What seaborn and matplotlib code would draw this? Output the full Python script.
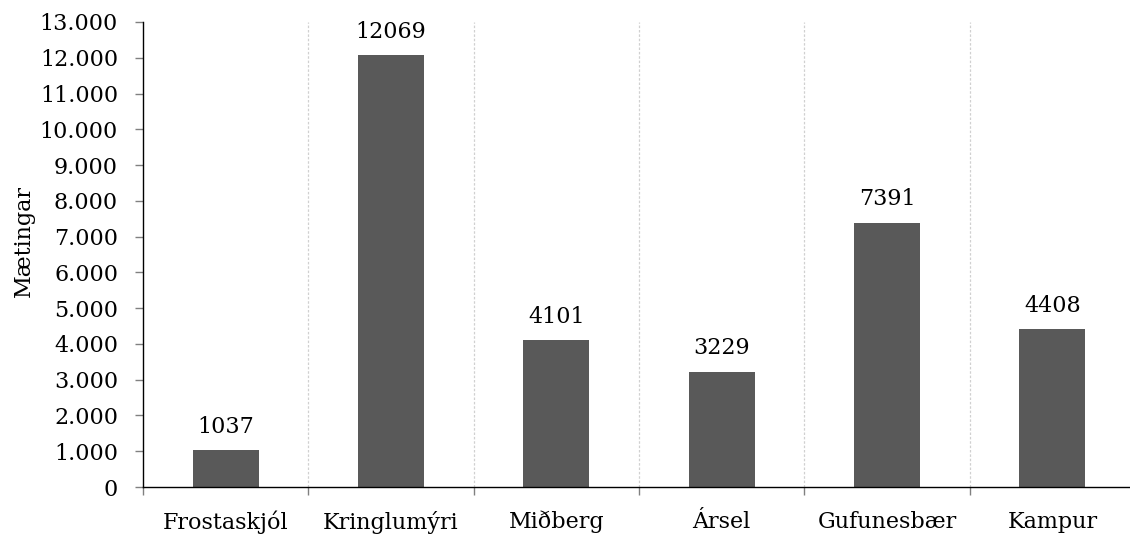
import matplotlib
matplotlib.use("Agg")
import matplotlib.pyplot as plt
import seaborn as sns
import pandas as pd
from matplotlib.ticker import FixedLocator, FuncFormatter

categories = ["Frostaskjól", "Kringlumýri", "Miðberg", "Ársel", "Gufunesbær", "Kampur"]
values = [1037, 12069, 4101, 3229, 7391, 4408]
y_ticks = list(range(0, 13001, 1000))

sns.set_theme(style="ticks")
plt.rcParams['font.family'] = ['DejaVu Serif']
plt.rcParams['text.color'] = 'black'
plt.rcParams['xtick.color'] = '#808080'
plt.rcParams['ytick.color'] = '#808080'
plt.rcParams['xtick.labelcolor'] = 'black'
plt.rcParams['ytick.labelcolor'] = 'black'

FS = 16

df = pd.DataFrame({"cat": categories, "val": values})

fig = plt.figure(figsize=(11.3, 5.35), dpi=100)
ax = fig.add_axes([143/1130, 1 - 487/535, (1135 - 143)/1130, (487 - 22)/535])

sns.barplot(data=df, x="cat", y="val", color="#595959", width=0.4, ax=ax,
            saturation=1, edgecolor="none", zorder=2)

ax.set_xlim(-0.5, len(categories) - 0.5)
ax.set_ylim(0, 13000)
ax.yaxis.set_major_locator(FixedLocator(y_ticks))
ax.yaxis.set_major_formatter(FuncFormatter(lambda v, p: f"{int(v):,}".replace(",", ".")))

# x ticks: labels at centers without tick marks, ticks at boundaries
ax.set_xticks(range(len(categories)))
ax.set_xticklabels(categories, fontsize=FS, color="black")
ax.tick_params(axis="x", which="major", length=0, pad=17)
bounds = [i - 0.5 for i in range(len(categories) + 1)]
ax.set_xticks(bounds, minor=True)
ax.tick_params(axis="x", which="minor", length=6, width=1, color="#808080",
               direction="out", bottom=True)
for b in bounds[1:-1]:
    ax.axvline(b, color="#d0d0d0", lw=0.9, ls=(0, (2, 1.5)), zorder=0)

ax.tick_params(axis="y", which="major", length=6, width=1, color="#808080",
               direction="out", labelsize=FS, pad=12, left=True, labelcolor="black")

for s in ["top", "right"]:
    ax.spines[s].set_visible(False)
ax.spines["left"].set_color("black")
ax.spines["bottom"].set_color("black")
ax.spines["left"].set_linewidth(1)
ax.spines["bottom"].set_linewidth(1)

ax.set_xlabel("")
ax.set_ylabel("")
fig.text(24/1130, 1 - 241/535, "Mætingar", rotation=90, ha="center", va="center",
         fontsize=FS, color="black")

for i, v in enumerate(values):
    ax.annotate(f"{v}", (i, v), xytext=(0, 12.5), textcoords="offset points",
                ha="center", va="baseline", fontsize=FS, color="black")

fig.savefig("out.png", dpi=100)
